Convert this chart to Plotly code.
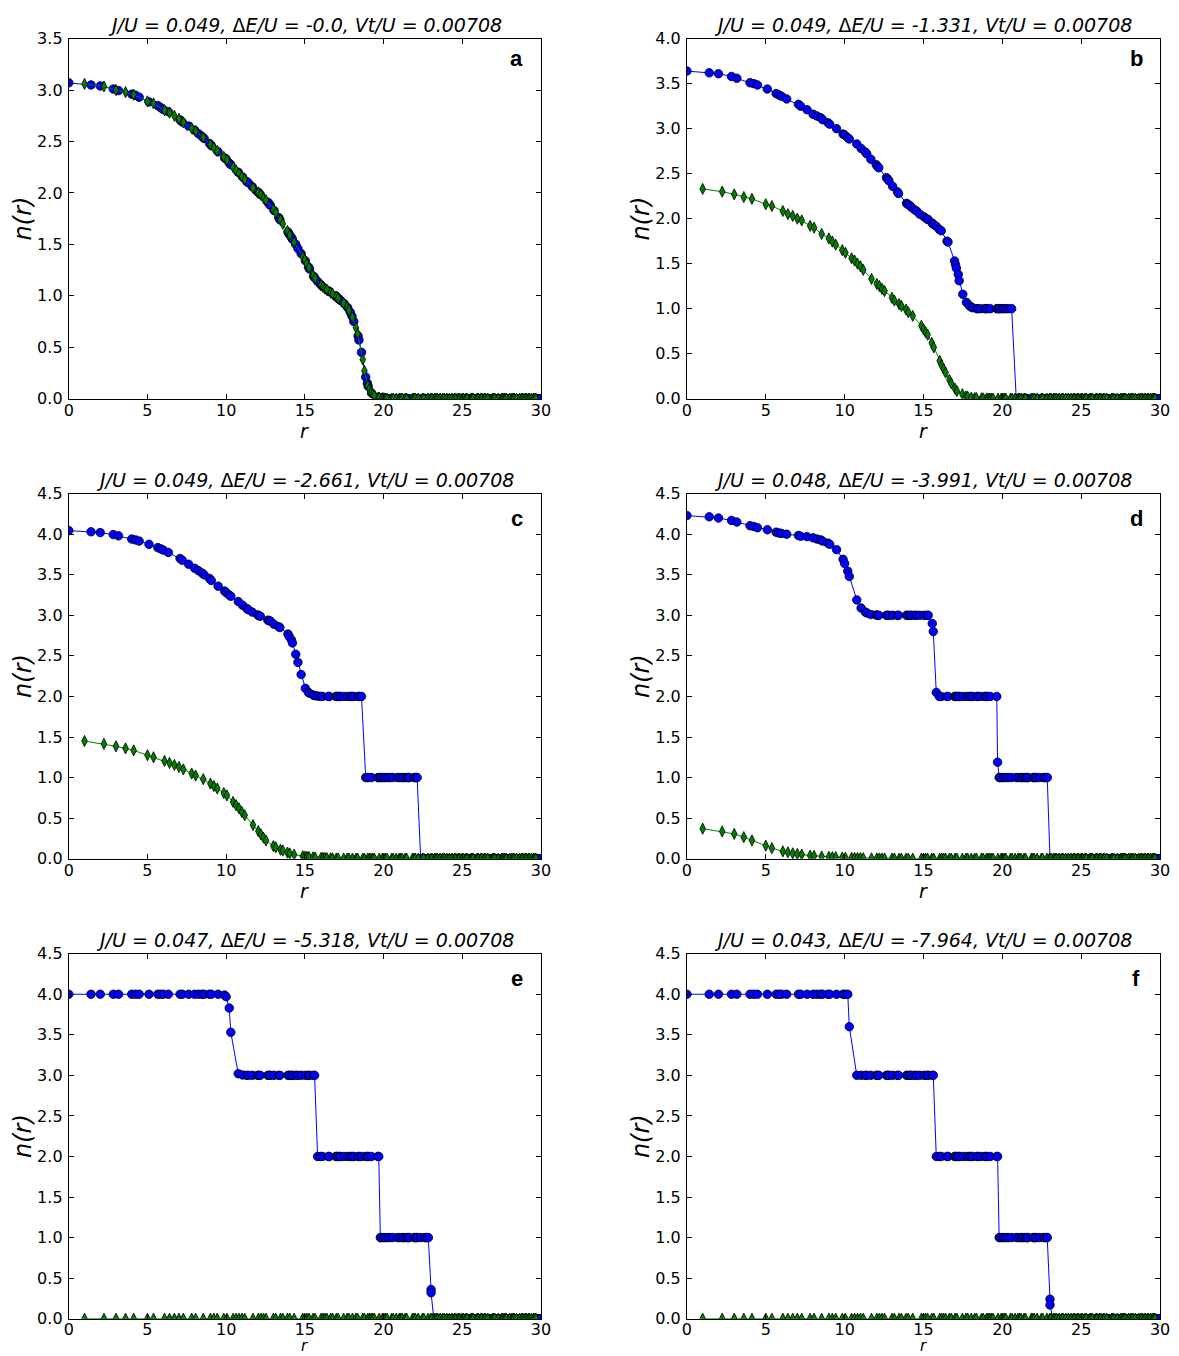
import plotly.graph_objects as go

# ---------------- data ----------------
# radii of the two sublattices (blue: even sites, green: odd sites)
r_blue = [
    0, 1.414, 2, 2.828, 3.162, 4, 4.243, 4.472, 5.099, 5.657,
    5.831, 6, 6.325, 7.071, 7.211, 7.616, 8, 8.246, 8.485, 8.602,
    8.944, 9.055, 9.487, 9.899, 10, 10.198, 10.296, 10.770, 11.045, 11.314,
    11.402, 11.662, 12, 12.083, 12.166, 12.649, 12.728, 12.806, 13.038, 13.342,
    13.416, 13.928, 14, 14.142, 14.213, 14.422, 14.560, 14.765, 15.033, 15.232,
    15.297, 15.556, 15.620, 15.811, 16, 16.125, 16.492, 16.553, 16.971, 17.029,
    17.088, 17.205, 17.263, 17.493, 17.720, 17.889, 18, 18.111, 18.385, 18.439,
    18.601, 18.868, 18.974, 19.026, 19.235, 19.647, 19.698, 19.799, 19.849, 20,
    20.100, 20.248, 20.396, 20.591, 20.881, 21.024, 21.213, 21.260, 21.401, 21.541,
    21.587, 21.633, 21.954, 22, 22.091, 22.136, 22.361, 22.627, 22.672, 22.804,
    22.847, 23.022, 23.022, 23.195, 23.324, 23.409, 23.537, 23.707, 24, 24.042,
    24.083, 24.166, 24.207, 24.331, 24.413, 24.698, 24.739, 25.020, 25.060, 25.179,
    25.298, 25.456, 25.495, 25.612, 25.807, 25.962, 26, 26.077, 26.306, 26.420,
    26.571, 26.683, 26.833, 26.907, 27.019, 27.166, 27.203, 27.313, 27.459, 27.785,
    27.857, 27.893, 28, 28.071, 28.178, 28.284, 28.320, 28.425, 28.460, 28.601,
    28.636, 28.844, 29.017, 29.120, 29.155, 29.428, 29.530, 29.698, 29.732, 29.833,
    29.967, 30,
]
r_green = [
    1, 2.236, 3, 3.606, 4.123, 5, 5.385, 6.083, 6.403, 6.708,
    7, 7.280, 7.810, 8.062, 8.544, 9, 9.220, 9.434, 9.849, 10.050,
    10.440, 10.630, 10.817, 11, 11.180, 11.705, 12.042, 12.207, 12.369, 12.530,
    13, 13.153, 13.454, 13.601, 13.892, 14.036, 14.318, 14.866, 15, 15.133,
    15.264, 15.524, 15.652, 16.031, 16.155, 16.279, 16.401, 16.643, 16.763, 17,
    17.117, 17.464, 17.692, 17.804, 18.028, 18.248, 18.358, 18.682, 18.788, 19,
    19.105, 19.209, 19.313, 19.416, 19.723, 19.925, 20.025, 20.125, 20.224, 20.518,
    20.616, 20.809, 21, 21.095, 21.190, 21.378, 21.471, 21.840, 21.932, 22.023,
    22.204, 22.472, 22.561, 22.825, 23, 23.087, 23.259, 23.345, 23.431, 23.601,
    23.770, 23.854, 24.021, 24.187, 24.352, 24.515, 24.597, 24.759, 24.839, 25,
    25.080, 25.239, 25.318, 25.554, 25.632, 25.710, 25.942, 26.019, 26.173, 26.249,
    26.401, 26.476, 26.627, 26.926, 27, 27.074, 27.295, 27.514, 27.586, 27.659,
    27.731, 27.803, 28.018, 28.160, 28.231, 28.302, 28.443, 28.653, 28.792, 28.862,
    29, 29.069, 29.206, 29.275, 29.411, 29.547, 29.614, 29.682,
]

n_blue_a = [
    3.07, 3.05, 3.04, 3.01, 2.995, 2.96, 2.95, 2.93, 2.885, 2.85,
    2.83, 2.81, 2.79, 2.71, 2.69, 2.65, 2.61, 2.575, 2.545, 2.53,
    2.48, 2.46, 2.40, 2.34, 2.33, 2.29, 2.275, 2.20, 2.155, 2.11,
    2.10, 2.06, 2.01, 2.00, 1.985, 1.91, 1.895, 1.88, 1.83, 1.76,
    1.74, 1.62, 1.60, 1.57, 1.55, 1.50, 1.46, 1.41, 1.34, 1.28,
    1.26, 1.19, 1.175, 1.14, 1.11, 1.09, 1.05, 1.04, 1.00, 0.985,
    0.98, 0.965, 0.955, 0.925, 0.885, 0.84, 0.80, 0.75, 0.61, 0.57,
    0.45, 0.21, 0.15, 0.12, 0.055, 0.015, 0.012, 0.008, 0.006, 0.004,
    0, 0, 0, 0, 0, 0, 0, 0, 0, 0,
    0, 0, 0, 0, 0, 0, 0, 0, 0, 0,
    0, 0, 0, 0, 0, 0, 0, 0, 0, 0,
    0, 0, 0, 0, 0, 0, 0, 0, 0, 0,
    0, 0, 0, 0, 0, 0, 0, 0, 0, 0,
    0, 0, 0, 0, 0, 0, 0, 0, 0, 0,
    0, 0, 0, 0, 0, 0, 0, 0, 0, 0,
    0, 0, 0, 0, 0, 0, 0, 0, 0, 0,
    0, 0,
]
n_green_a = [
    3.06, 3.035, 3.00, 2.98, 2.955, 2.89, 2.87, 2.805, 2.78, 2.75,
    2.72, 2.685, 2.63, 2.60, 2.54, 2.47, 2.44, 2.41, 2.35, 2.32,
    2.25, 2.22, 2.19, 2.16, 2.13, 2.05, 2.005, 1.98, 1.95, 1.93,
    1.84, 1.81, 1.735, 1.70, 1.63, 1.59, 1.52, 1.38, 1.35, 1.31,
    1.275, 1.20, 1.17, 1.105, 1.085, 1.07, 1.06, 1.03, 1.02, 0.99,
    0.975, 0.93, 0.89, 0.86, 0.79, 0.69, 0.63, 0.38, 0.27, 0.13,
    0.09, 0.06, 0.045, 0.03, 0.01, 0.005, 0.003, 0, 0, 0,
    0, 0, 0, 0, 0, 0, 0, 0, 0, 0,
    0, 0, 0, 0, 0, 0, 0, 0, 0, 0,
    0, 0, 0, 0, 0, 0, 0, 0, 0, 0,
    0, 0, 0, 0, 0, 0, 0, 0, 0, 0,
    0, 0, 0, 0, 0, 0, 0, 0, 0, 0,
    0, 0, 0, 0, 0, 0, 0, 0, 0, 0,
    0, 0, 0, 0, 0, 0, 0, 0,
]

n_blue_b = [
    3.64, 3.62, 3.61, 3.58, 3.56, 3.51, 3.50, 3.485, 3.44, 3.39,
    3.375, 3.36, 3.33, 3.27, 3.25, 3.21, 3.16, 3.14, 3.12, 3.10,
    3.065, 3.05, 3.00, 2.94, 2.93, 2.90, 2.885, 2.83, 2.78, 2.74,
    2.72, 2.66, 2.60, 2.58, 2.565, 2.455, 2.44, 2.42, 2.36, 2.30,
    2.28, 2.17, 2.16, 2.145, 2.13, 2.10, 2.085, 2.05, 2.02, 1.995,
    1.99, 1.95, 1.94, 1.915, 1.88, 1.865, 1.75, 1.74, 1.53, 1.49,
    1.45, 1.38, 1.31, 1.16, 1.07, 1.035, 1.02, 1.01, 1.0, 1.0,
    1.0, 1.0, 1.0, 1.0, 1.0, 1.0, 1.0, 1.0, 1.0, 1.0,
    1.0, 1.0, 1.0, 1.0, 0, 0, 0, 0, 0, 0,
    0, 0, 0, 0, 0, 0, 0, 0, 0, 0,
    0, 0, 0, 0, 0, 0, 0, 0, 0, 0,
    0, 0, 0, 0, 0, 0, 0, 0, 0, 0,
    0, 0, 0, 0, 0, 0, 0, 0, 0, 0,
    0, 0, 0, 0, 0, 0, 0, 0, 0, 0,
    0, 0, 0, 0, 0, 0, 0, 0, 0, 0,
    0, 0, 0, 0, 0, 0, 0, 0, 0, 0,
    0, 0,
]
n_green_b = [
    2.33, 2.30, 2.27, 2.24, 2.22, 2.16, 2.14, 2.085, 2.05, 2.03,
    2.00, 1.98, 1.92, 1.90, 1.83, 1.78, 1.745, 1.71, 1.65, 1.62,
    1.56, 1.535, 1.50, 1.47, 1.43, 1.33, 1.275, 1.25, 1.22, 1.195,
    1.12, 1.09, 1.05, 1.03, 0.99, 0.96, 0.92, 0.81, 0.77, 0.74,
    0.71, 0.62, 0.57, 0.42, 0.37, 0.33, 0.29, 0.21, 0.17, 0.11,
    0.085, 0.05, 0.025, 0.02, 0.012, 0.008, 0.006, 0.004, 0.003, 0.002,
    0, 0, 0, 0, 0, 0, 0, 0, 0, 0,
    0, 0, 0, 0, 0, 0, 0, 0, 0, 0,
    0, 0, 0, 0, 0, 0, 0, 0, 0, 0,
    0, 0, 0, 0, 0, 0, 0, 0, 0, 0,
    0, 0, 0, 0, 0, 0, 0, 0, 0, 0,
    0, 0, 0, 0, 0, 0, 0, 0, 0, 0,
    0, 0, 0, 0, 0, 0, 0, 0, 0, 0,
    0, 0, 0, 0, 0, 0, 0, 0,
]

n_blue_c = [
    4.045, 4.03, 4.02, 3.995, 3.98, 3.94, 3.93, 3.915, 3.875, 3.835,
    3.82, 3.805, 3.775, 3.70, 3.68, 3.63, 3.58, 3.55, 3.52, 3.50,
    3.455, 3.43, 3.36, 3.30, 3.28, 3.25, 3.235, 3.17, 3.125, 3.085,
    3.07, 3.04, 3.005, 2.995, 2.99, 2.94, 2.935, 2.93, 2.89, 2.86,
    2.85, 2.77, 2.74, 2.70, 2.66, 2.52, 2.42, 2.27, 2.10, 2.05,
    2.04, 2.015, 2.01, 2.005, 2.0, 2.0, 2.0, 2.0, 2.0, 2.0,
    2.0, 2.0, 2.0, 2.0, 2.0, 2.0, 2.0, 2.0, 2.0, 2.0,
    2.0, 1.0, 1.0, 1.0, 1.0, 1.0, 1.0, 1.0, 1.0, 1.0,
    1.0, 1.0, 1.0, 1.0, 1.0, 1.0, 1.0, 1.0, 1.0, 1.0,
    1.0, 1.0, 1.0, 1.0, 1.0, 1.0, 0, 0, 0, 0,
    0, 0, 0, 0, 0, 0, 0, 0, 0, 0,
    0, 0, 0, 0, 0, 0, 0, 0, 0, 0,
    0, 0, 0, 0, 0, 0, 0, 0, 0, 0,
    0, 0, 0, 0, 0, 0, 0, 0, 0, 0,
    0, 0, 0, 0, 0, 0, 0, 0, 0, 0,
    0, 0, 0, 0, 0, 0, 0, 0, 0, 0,
    0, 0,
]
n_green_c = [
    1.45, 1.415, 1.385, 1.36, 1.335, 1.275, 1.25, 1.205, 1.18, 1.155,
    1.13, 1.10, 1.05, 1.025, 0.98, 0.925, 0.895, 0.865, 0.81, 0.78,
    0.70, 0.66, 0.62, 0.575, 0.535, 0.415, 0.34, 0.30, 0.26, 0.225,
    0.155, 0.14, 0.11, 0.10, 0.075, 0.065, 0.05, 0.03, 0.025, 0.022,
    0.02, 0.016, 0.014, 0.01, 0.009, 0.008, 0.007, 0.005, 0.004, 0.003,
    0.002, 0.002, 0.001, 0.001, 0, 0, 0, 0, 0, 0,
    0, 0, 0, 0, 0, 0, 0, 0, 0, 0,
    0, 0, 0, 0, 0, 0, 0, 0, 0, 0,
    0, 0, 0, 0, 0, 0, 0, 0, 0, 0,
    0, 0, 0, 0, 0, 0, 0, 0, 0, 0,
    0, 0, 0, 0, 0, 0, 0, 0, 0, 0,
    0, 0, 0, 0, 0, 0, 0, 0, 0, 0,
    0, 0, 0, 0, 0, 0, 0, 0, 0, 0,
    0, 0, 0, 0, 0, 0, 0, 0,
]

n_blue_d = [
    4.23, 4.215, 4.20, 4.17, 4.15, 4.105, 4.095, 4.08, 4.055, 4.025,
    4.015, 4.01, 4.0, 3.985, 3.975, 3.97, 3.955, 3.94, 3.93, 3.915,
    3.89, 3.875, 3.81, 3.69, 3.64, 3.545, 3.48, 3.19, 3.09, 3.04,
    3.03, 3.01, 3.005, 3.0, 3.0, 3.0, 3.0, 3.0, 3.0, 3.0,
    3.0, 3.0, 3.0, 3.0, 3.0, 3.0, 3.0, 3.0, 3.0, 3.0,
    3.0, 2.90, 2.80, 2.05, 2.0, 2.0, 2.0, 2.0, 2.0, 2.0,
    2.0, 2.0, 2.0, 2.0, 2.0, 2.0, 2.0, 2.0, 2.0, 2.0,
    2.0, 2.0, 2.0, 2.0, 2.0, 2.0, 1.19, 1.0, 1.0, 1.0,
    1.0, 1.0, 1.0, 1.0, 1.0, 1.0, 1.0, 1.0, 1.0, 1.0,
    1.0, 1.0, 1.0, 1.0, 1.0, 1.0, 1.0, 1.0, 1.0, 1.0,
    1.0, 0, 0, 0, 0, 0, 0, 0, 0, 0,
    0, 0, 0, 0, 0, 0, 0, 0, 0, 0,
    0, 0, 0, 0, 0, 0, 0, 0, 0, 0,
    0, 0, 0, 0, 0, 0, 0, 0, 0, 0,
    0, 0, 0, 0, 0, 0, 0, 0, 0, 0,
    0, 0, 0, 0, 0, 0, 0, 0, 0, 0,
    0, 0,
]
n_green_d = [
    0.37, 0.335, 0.305, 0.265, 0.225, 0.16, 0.13, 0.09, 0.078, 0.066,
    0.058, 0.05, 0.038, 0.034, 0.027, 0.022, 0.02, 0.018, 0.014, 0.012,
    0.01, 0.009, 0.008, 0.007, 0.006, 0.004, 0.003, 0.003, 0.002, 0.002,
    0.001, 0.001, 0, 0, 0, 0, 0, 0, 0, 0,
    0, 0, 0, 0, 0, 0, 0, 0, 0, 0,
    0, 0, 0, 0, 0, 0, 0, 0, 0, 0,
    0, 0, 0, 0, 0, 0, 0, 0, 0, 0,
    0, 0, 0, 0, 0, 0, 0, 0, 0, 0,
    0, 0, 0, 0, 0, 0, 0, 0, 0, 0,
    0, 0, 0, 0, 0, 0, 0, 0, 0, 0,
    0, 0, 0, 0, 0, 0, 0, 0, 0, 0,
    0, 0, 0, 0, 0, 0, 0, 0, 0, 0,
    0, 0, 0, 0, 0, 0, 0, 0, 0, 0,
    0, 0, 0, 0, 0, 0, 0, 0,
]

n_blue_e = [
    4.0, 4.0, 4.0, 4.0, 4.0, 4.0, 4.0, 4.0, 4.0, 4.0,
    4.0, 4.0, 4.0, 4.0, 4.0, 4.0, 4.0, 4.0, 4.0, 4.0,
    4.0, 4.0, 4.0, 3.99, 3.97, 3.83, 3.53, 3.02, 3.005, 3.0,
    3.0, 3.0, 3.0, 3.0, 3.0, 3.0, 3.0, 3.0, 3.0, 3.0,
    3.0, 3.0, 3.0, 3.0, 3.0, 3.0, 3.0, 3.0, 3.0, 3.0,
    3.0, 3.0, 3.0, 2.0, 2.0, 2.0, 2.0, 2.0, 2.0, 2.0,
    2.0, 2.0, 2.0, 2.0, 2.0, 2.0, 2.0, 2.0, 2.0, 2.0,
    2.0, 2.0, 2.0, 2.0, 2.0, 2.0, 2.0, 1.0, 1.0, 1.0,
    1.0, 1.0, 1.0, 1.0, 1.0, 1.0, 1.0, 1.0, 1.0, 1.0,
    1.0, 1.0, 1.0, 1.0, 1.0, 1.0, 1.0, 1.0, 1.0, 1.0,
    1.0, 0.36, 0.32, 0, 0, 0, 0, 0, 0, 0,
    0, 0, 0, 0, 0, 0, 0, 0, 0, 0,
    0, 0, 0, 0, 0, 0, 0, 0, 0, 0,
    0, 0, 0, 0, 0, 0, 0, 0, 0, 0,
    0, 0, 0, 0, 0, 0, 0, 0, 0, 0,
    0, 0, 0, 0, 0, 0, 0, 0, 0, 0,
    0, 0,
]
n_green_e = [
    0, 0, 0, 0, 0, 0, 0, 0, 0, 0,
    0, 0, 0, 0, 0, 0, 0, 0, 0, 0,
    0, 0, 0, 0, 0, 0, 0, 0, 0, 0,
    0, 0, 0, 0, 0, 0, 0, 0, 0, 0,
    0, 0, 0, 0, 0, 0, 0, 0, 0, 0,
    0, 0, 0, 0, 0, 0, 0, 0, 0, 0,
    0, 0, 0, 0, 0, 0, 0, 0, 0, 0,
    0, 0, 0, 0, 0, 0, 0, 0, 0, 0,
    0, 0, 0, 0, 0, 0, 0, 0, 0, 0,
    0, 0, 0, 0, 0, 0, 0, 0, 0, 0,
    0, 0, 0, 0, 0, 0, 0, 0, 0, 0,
    0, 0, 0, 0, 0, 0, 0, 0, 0, 0,
    0, 0, 0, 0, 0, 0, 0, 0, 0, 0,
    0, 0, 0, 0, 0, 0, 0, 0,
]

n_blue_f = [
    4.0, 4.0, 4.0, 4.0, 4.0, 4.0, 4.0, 4.0, 4.0, 4.0,
    4.0, 4.0, 4.0, 4.0, 4.0, 4.0, 4.0, 4.0, 4.0, 4.0,
    4.0, 4.0, 4.0, 4.0, 4.0, 4.0, 3.6, 3.0, 3.0, 3.0,
    3.0, 3.0, 3.0, 3.0, 3.0, 3.0, 3.0, 3.0, 3.0, 3.0,
    3.0, 3.0, 3.0, 3.0, 3.0, 3.0, 3.0, 3.0, 3.0, 3.0,
    3.0, 3.0, 3.0, 2.0, 2.0, 2.0, 2.0, 2.0, 2.0, 2.0,
    2.0, 2.0, 2.0, 2.0, 2.0, 2.0, 2.0, 2.0, 2.0, 2.0,
    2.0, 2.0, 2.0, 2.0, 2.0, 2.0, 2.0, 1.0, 1.0, 1.0,
    1.0, 1.0, 1.0, 1.0, 1.0, 1.0, 1.0, 1.0, 1.0, 1.0,
    1.0, 1.0, 1.0, 1.0, 1.0, 1.0, 1.0, 1.0, 1.0, 1.0,
    1.0, 0.24, 0.17, 0, 0, 0, 0, 0, 0, 0,
    0, 0, 0, 0, 0, 0, 0, 0, 0, 0,
    0, 0, 0, 0, 0, 0, 0, 0, 0, 0,
    0, 0, 0, 0, 0, 0, 0, 0, 0, 0,
    0, 0, 0, 0, 0, 0, 0, 0, 0, 0,
    0, 0, 0, 0, 0, 0, 0, 0, 0, 0,
    0, 0,
]
n_green_f = [
    0, 0, 0, 0, 0, 0, 0, 0, 0, 0,
    0, 0, 0, 0, 0, 0, 0, 0, 0, 0,
    0, 0, 0, 0, 0, 0, 0, 0, 0, 0,
    0, 0, 0, 0, 0, 0, 0, 0, 0, 0,
    0, 0, 0, 0, 0, 0, 0, 0, 0, 0,
    0, 0, 0, 0, 0, 0, 0, 0, 0, 0,
    0, 0, 0, 0, 0, 0, 0, 0, 0, 0,
    0, 0, 0, 0, 0, 0, 0, 0, 0, 0,
    0, 0, 0, 0, 0, 0, 0, 0, 0, 0,
    0, 0, 0, 0, 0, 0, 0, 0, 0, 0,
    0, 0, 0, 0, 0, 0, 0, 0, 0, 0,
    0, 0, 0, 0, 0, 0, 0, 0, 0, 0,
    0, 0, 0, 0, 0, 0, 0, 0, 0, 0,
    0, 0, 0, 0, 0, 0, 0, 0,
]

panel_letters = ["a", "b", "c", "d", "e", "f"]
j_over_u = ["0.049", "0.049", "0.049", "0.048", "0.047", "0.043"]
de_over_u = ["-0.0", "-1.331", "-2.661", "-3.991", "-5.318", "-7.964"]
vt_over_u = ["0.00708", "0.00708", "0.00708", "0.00708", "0.00708", "0.00708"]
y_max = [3.5, 4.0, 4.5, 4.5, 4.5, 4.5]
x_ticks = [0, 5, 10, 15, 20, 25, 30]

blue_sets = [n_blue_a, n_blue_b, n_blue_c, n_blue_d, n_blue_e, n_blue_f]
green_sets = [n_green_a, n_green_b, n_green_c, n_green_d, n_green_e, n_green_f]

# ---------------- layout ----------------
# target positions are given in screenshot pixels; fx/fy convert them to
# figure pixels (the page adds an offset and a slight scale)
W, H = 1176, 1362
SX, SY = 0.987, 0.986
OX, OY = 12.4, 16.6
col_px = [(68, 540), (686, 1159)]
row_px = [(38, 398), (493, 858), (953, 1318)]
FONT = "DejaVu Sans"


def fx(p):
    return p / SX - OX


def fy(p):
    return p / SY - OY


def paper_x(p):
    return fx(p) / W


def paper_y(p):
    return 1 - fy(p) / H


fig = go.Figure()
annotations = []
layout_axes = {}

for k in range(6):
    row, col = divmod(k, 2)
    idx = k + 1
    xa = "x" if idx == 1 else f"x{idx}"
    ya = "y" if idx == 1 else f"y{idx}"
    xkey = "xaxis" if idx == 1 else f"xaxis{idx}"
    ykey = "yaxis" if idx == 1 else f"yaxis{idx}"
    x0, x1 = col_px[col]
    top, bot = row_px[row]
    last_row = row == 2

    yb = blue_sets[k]
    yg = green_sets[k]
    fig.add_trace(go.Scatter(
        x=r_blue[:len(yb)], y=yb, mode="lines+markers", xaxis=xa, yaxis=ya,
        line=dict(color="#0000ff", width=1),
        marker=dict(symbol="circle", size=8.5, color="#0000ff",
                    line=dict(color="#000000", width=0.8)),
        showlegend=False, hoverinfo="x+y"))
    fig.add_trace(go.Scatter(
        x=r_green[:len(yg)], y=yg, mode="lines+markers", xaxis=xa, yaxis=ya,
        line=dict(color="#008000", width=1),
        marker=dict(symbol="diamond-tall", size=8, color="#008000",
                    line=dict(color="#000000", width=0.8)),
        showlegend=False, hoverinfo="x+y"))

    common = dict(showline=True, linecolor="#000000", linewidth=1, mirror="ticks",
                  ticks="inside", ticklen=5, tickwidth=1, tickcolor="#000000",
                  showgrid=False, zeroline=False,
                  tickfont=dict(family=FONT, size=16, color="#000000"))
    layout_axes[xkey] = dict(domain=[paper_x(x0), paper_x(x1)], anchor=ya, range=[0, 30],
                             tickvals=x_ticks, ticklabelstandoff=(-4 if last_row else -3),
                             **common)
    layout_axes[ykey] = dict(domain=[paper_y(bot), paper_y(top)], anchor=xa,
                             range=[0, y_max[k]], dtick=0.5, tick0=0,
                             tickformat=".1f", ticklabelstandoff=2, **common)

    cx = (x0 + x1) / 2
    title = (f"<i>J/U = {j_over_u[k]}, </i>Δ<i>E/U = {de_over_u[k]}, "
             f"Vt/U = {vt_over_u[k]}</i>")
    annotations.append(dict(text=title, xref="paper", yref="paper",
                            x=paper_x(cx), y=paper_y(top - 1), xanchor="center",
                            yanchor="bottom", showarrow=False,
                            font=dict(family=FONT, size=19, color="#000000")))
    annotations.append(dict(text=f"<b>{panel_letters[k]}</b>", xref="paper", yref="paper",
                            x=paper_x(x1 - 24), y=paper_y(row_px[row][0] + (20 if row == 0 else 25)),
                            xanchor="center", yanchor="middle", showarrow=False,
                            font=dict(family="Liberation Sans", size=22, color="#000000")))
    annotations.append(dict(text="<i>n(r)</i>", xref="paper", yref="paper",
                            x=paper_x(x0 - 46), y=paper_y((top + bot) / 2), xanchor="center",
                            yanchor="middle", textangle=-90, showarrow=False,
                            font=dict(family=FONT, size=24, color="#000000")))
    if last_row:
        annotations.append(dict(text="<i>r</i>", xref="paper", yref="paper",
                                x=paper_x(cx), y=paper_y(1355), xanchor="center",
                                yanchor="bottom", showarrow=False, borderpad=0,
                                font=dict(family=FONT, size=15, color="#000000")))
    else:
        annotations.append(dict(text="<i>r</i>", xref="paper", yref="paper",
                                x=paper_x(cx), y=paper_y(bot + 32), xanchor="center",
                                yanchor="middle", showarrow=False, borderpad=0,
                                font=dict(family=FONT, size=19, color="#000000")))

fig.update_layout(
    width=W, height=H, margin=dict(l=0, r=0, t=0, b=0),
    paper_bgcolor="#ffffff", plot_bgcolor="#ffffff",
    annotations=annotations, **layout_axes,
)

fig.write_html("out.html")
